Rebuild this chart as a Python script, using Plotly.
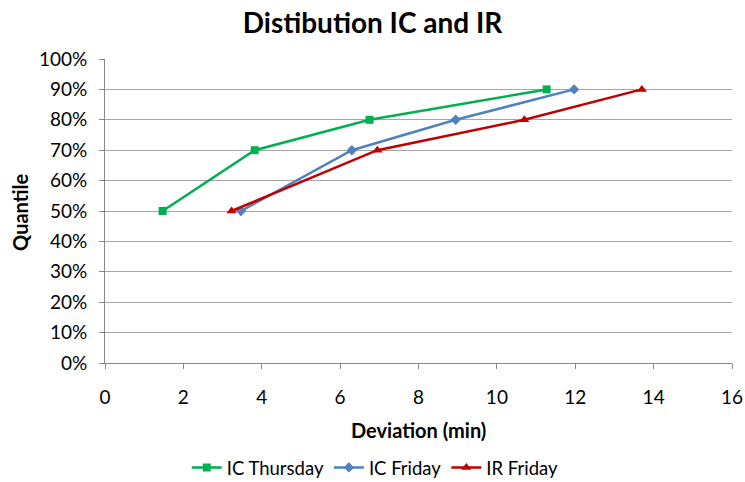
import plotly.graph_objects as go

quantiles = [0.5, 0.7, 0.8, 0.9]

ic_thursday = [1.47, 3.82, 6.75, 11.27]
ic_friday = [3.47, 6.30, 8.95, 11.97]
ir_friday = [3.23, 6.95, 10.70, 13.70]

font = "Lato, Carlito, Calibri, sans-serif"

fig = go.Figure()
fig.add_trace(go.Scatter(x=ic_thursday, y=quantiles, mode="lines+markers", name="IC Thursday",
                         line=dict(color="#00B050", width=2.5),
                         marker=dict(symbol="square", size=8, color="#00B050")))
fig.add_trace(go.Scatter(x=ic_friday, y=quantiles, mode="lines+markers", name="IC Friday",
                         line=dict(color="#4F81BD", width=2.5),
                         marker=dict(symbol="diamond", size=8, color="#4F81BD")))
fig.add_trace(go.Scatter(x=ir_friday, y=quantiles, mode="lines+markers", name="IR Friday",
                         line=dict(color="#C00000", width=2.5),
                         marker=dict(symbol="triangle-up", size=9, color="#C00000")))

fig.update_layout(
    width=745, height=482,
    paper_bgcolor="white", plot_bgcolor="white",
    margin=dict(l=105, r=13, t=59, b=119, autoexpand=False),
    font=dict(family=font, size=19, color="black"),
    title=dict(text="<b>Distibution IC and IR</b>", x=0.5, xanchor="center",
               y=0.952, yanchor="middle", font=dict(size=28)),
    legend=dict(orientation="h", x=0.431, xanchor="center",
                y=-0.345, yanchor="middle", font=dict(size=18.5)),
    xaxis=dict(range=[0, 16], dtick=2, showgrid=False, showline=True, linecolor="#878787",
               ticks="outside", tickcolor="#878787", ticklen=5, zeroline=False,
               ticklabelstandoff=12, automargin=False),
    yaxis=dict(range=[0, 1], dtick=0.1, tickformat=".0%", showgrid=True, gridcolor="#A6A6A6",
               showline=True, linecolor="#878787", ticks="outside", tickcolor="#878787",
               ticklen=5, zeroline=False, ticklabelstandoff=8, automargin=False),
    annotations=[
        dict(text="<b>Deviation (min)</b>", xref="paper", yref="paper", x=0.5, y=-0.22,
             xanchor="center", yanchor="middle", showarrow=False, font=dict(size=20)),
        dict(text="<b>Quantile</b>", xref="paper", yref="paper", x=-0.1356, y=0.497,
             xanchor="center", yanchor="middle", textangle=-90, showarrow=False,
             font=dict(size=20)),
    ],
)

# drop the default 8px body margin so the figure fills the window exactly
fig.write_html("out.html", config={"displayModeBar": False},
               post_script="document.body.style.margin='0';")
